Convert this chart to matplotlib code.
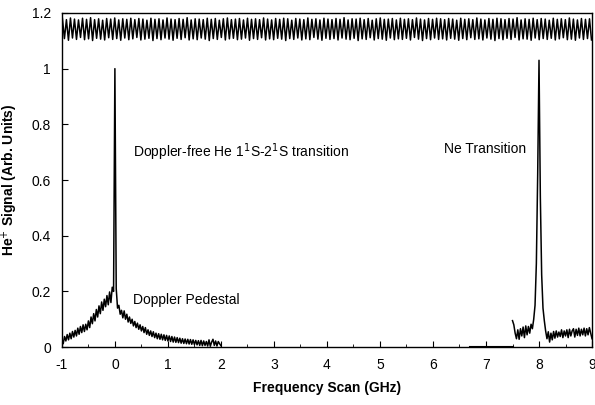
import numpy as np
import matplotlib
matplotlib.use("Agg")
import matplotlib.pyplot as plt
from matplotlib.ticker import MultipleLocator, FuncFormatter

plt.rcParams["font.family"] = ["Liberation Sans", "DejaVu Sans"]
plt.rcParams["axes.unicode_minus"] = False

# He 1S-2S scan: Doppler pedestal with the narrow Doppler-free peak at 0 GHz
he_x = np.arange(-1.0, 2.0001, 0.025)
he_y = [
    0.030, 0.012, 0.038, 0.022, 0.045, 0.026, 0.050, 0.030, 0.056, 0.036,
    0.060, 0.040, 0.068, 0.046, 0.074, 0.052, 0.080, 0.056, 0.082, 0.062,
    0.094, 0.070, 0.108, 0.084, 0.120, 0.094, 0.135, 0.108, 0.148, 0.120,
    0.162, 0.132, 0.172, 0.145, 0.185, 0.152, 0.198, 0.160, 0.215, 0.200,
    1.000,
    0.210, 0.140, 0.150, 0.118, 0.132, 0.105, 0.130, 0.100, 0.118, 0.090,
    0.108, 0.085, 0.100, 0.076, 0.092, 0.070, 0.086, 0.064, 0.080, 0.058,
    0.074, 0.052, 0.070, 0.046, 0.062, 0.042, 0.058, 0.038, 0.055, 0.034,
    0.050, 0.030, 0.048, 0.028, 0.046, 0.026, 0.044, 0.024, 0.042, 0.022,
    0.040, 0.020, 0.038, 0.018, 0.036, 0.017, 0.034, 0.016, 0.032, 0.014,
    0.030, 0.013, 0.029, 0.012, 0.028, 0.011, 0.027, 0.010, 0.026, 0.009,
    0.024, 0.008, 0.023, 0.006, 0.024, 0.005, 0.022, 0.006, 0.020, 0.004,
    0.026, 0.003, 0.018, 0.028, 0.006, 0.022, 0.004, 0.020, 0.012, 0.005,
]

# Ne reference line near 8 GHz
ne_x = np.arange(7.5, 9.0001, 0.025)
ne_y = [
    0.095, 0.080, 0.050, 0.030, 0.062, 0.028, 0.066, 0.040, 0.072, 0.034,
    0.076, 0.044, 0.074, 0.050, 0.082, 0.066, 0.100, 0.150, 0.300, 0.620,
    1.030, 0.540, 0.260, 0.140, 0.095, 0.058, 0.030, 0.055, 0.018, 0.050,
    0.026, 0.056, 0.032, 0.058, 0.036, 0.054, 0.038, 0.062, 0.034, 0.058,
    0.040, 0.062, 0.034, 0.064, 0.040, 0.058, 0.066, 0.036, 0.064, 0.042,
    0.068, 0.040, 0.064, 0.044, 0.068, 0.040, 0.066, 0.044, 0.070, 0.050,
    0.030,
]

# flat trace between the two scans
gap_x = [6.7, 7.5]
gap_y = [0.0, 0.0]

# Fabry-Perot fringe maxima / minima along the top
fringe_peaks = [
    1.180, 1.176, 1.182, 1.178, 1.175, 1.181, 1.177, 1.183, 1.176, 1.179, 1.174, 1.180,
    1.178, 1.182, 1.175, 1.179, 1.177, 1.181, 1.176, 1.180, 1.178, 1.174, 1.181, 1.177,
    1.179, 1.175, 1.182, 1.178, 1.176, 1.180, 1.177, 1.183, 1.175, 1.179, 1.178, 1.176,
    1.181, 1.177, 1.180, 1.174, 1.179, 1.182, 1.176, 1.178, 1.180, 1.175, 1.181, 1.177,
    1.179, 1.176, 1.182, 1.178, 1.175, 1.180, 1.177, 1.181, 1.179, 1.174, 1.180, 1.178,
    1.176, 1.182, 1.177, 1.179, 1.175, 1.181, 1.178, 1.176, 1.180, 1.177, 1.183, 1.175,
    1.179, 1.178, 1.181, 1.176, 1.180, 1.174, 1.179, 1.182, 1.177, 1.178, 1.180, 1.175,
    1.181, 1.177, 1.179, 1.176, 1.182, 1.178, 1.175, 1.180, 1.177, 1.181, 1.179, 1.176,
    1.180, 1.178, 1.174, 1.181, 1.177, 1.179, 1.176, 1.182, 1.178, 1.175, 1.180, 1.177,
    1.181, 1.179, 1.176, 1.180, 1.178, 1.183, 1.175, 1.179, 1.177, 1.181, 1.176, 1.180,
    1.178, 1.174, 1.181, 1.177, 1.179, 1.176, 1.182, 1.178, 1.175, 1.180, 1.177, 1.179,
]
fringe_dips = [
    1.108, 1.102, 1.110, 1.105, 1.112, 1.104, 1.107, 1.101, 1.109, 1.106, 1.103, 1.111,
    1.105, 1.108, 1.102, 1.110, 1.104, 1.107, 1.112, 1.103, 1.106, 1.109, 1.101, 1.108,
    1.104, 1.110, 1.106, 1.102, 1.109, 1.105, 1.111, 1.103, 1.107, 1.104, 1.110, 1.106,
    1.101, 1.108, 1.105, 1.112, 1.103, 1.107, 1.109, 1.104, 1.106, 1.110, 1.102, 1.108,
    1.105, 1.111, 1.103, 1.107, 1.104, 1.109, 1.106, 1.101, 1.108, 1.105, 1.110, 1.103,
    1.107, 1.104, 1.112, 1.106, 1.102, 1.109, 1.105, 1.108, 1.103, 1.110, 1.106, 1.104,
    1.109, 1.101, 1.107, 1.105, 1.111, 1.103, 1.108, 1.106, 1.102, 1.110, 1.104, 1.107,
    1.105, 1.109, 1.103, 1.112, 1.106, 1.101, 1.108, 1.104, 1.110, 1.105, 1.107, 1.103,
    1.109, 1.106, 1.102, 1.108, 1.104, 1.111, 1.105, 1.107, 1.103, 1.110, 1.106, 1.101,
    1.108, 1.104, 1.109, 1.105, 1.112, 1.103, 1.107, 1.106, 1.102, 1.110, 1.104, 1.108,
    1.105, 1.109, 1.103, 1.107, 1.111, 1.104, 1.106, 1.102, 1.110, 1.105, 1.108, 1.103,
]

x_ticks = [-1, 0, 1, 2, 3, 4, 5, 6, 7, 8, 9]
y_ticks = [0, 0.2, 0.4, 0.6, 0.8, 1.0, 1.2]

# interleave maxima and minima into one trace
fringe_y = np.ravel(np.column_stack([fringe_peaks, fringe_dips]))
fringe_x = np.linspace(-0.99, 8.99, len(fringe_y))

fig = plt.figure(figsize=(5.95, 4.05), dpi=100)
ax = fig.add_axes([0.104, 0.143, 0.891, 0.825])

ax.plot(fringe_x, fringe_y, color="black", lw=1.1)
ax.plot(he_x, he_y, color="black", lw=1.1)
ax.plot(ne_x, ne_y, color="black", lw=1.1)
ax.plot(gap_x, gap_y, color="black", lw=1.5)

ax.set_xlim(-1, 9)
ax.set_ylim(0, 1.2)
ax.set_xticks(x_ticks)
ax.set_yticks(y_ticks)
ax.xaxis.set_minor_locator(MultipleLocator(0.5))
ax.yaxis.set_major_formatter(FuncFormatter(lambda v, p: f"{v:g}"))
ax.tick_params(which="major", direction="in", length=4, labelsize=10)
ax.tick_params(axis="x", which="major", pad=8)
ax.tick_params(axis="y", which="major", pad=8)
ax.tick_params(which="minor", direction="in", length=2)
ax.tick_params(axis="y", which="minor", left=False)
for s in ax.spines.values():
    s.set_linewidth(1.0)

ax.set_xlabel("Frequency Scan (GHz)", fontsize=10, fontweight="bold", labelpad=6)
ax.set_ylabel("He$^{+}$ Signal (Arb. Units)", fontsize=10, fontweight="bold", labelpad=8)

ax.text(0.35, 0.70, "Doppler-free He 1$^{1}$S-2$^{1}$S transition", fontsize=10, va="center")
ax.text(6.2, 0.71, "Ne Transition", fontsize=10, va="center")
ax.text(0.35, 0.17, "Doppler Pedestal", fontsize=10, va="center")

fig.savefig("out.png", dpi=100)
